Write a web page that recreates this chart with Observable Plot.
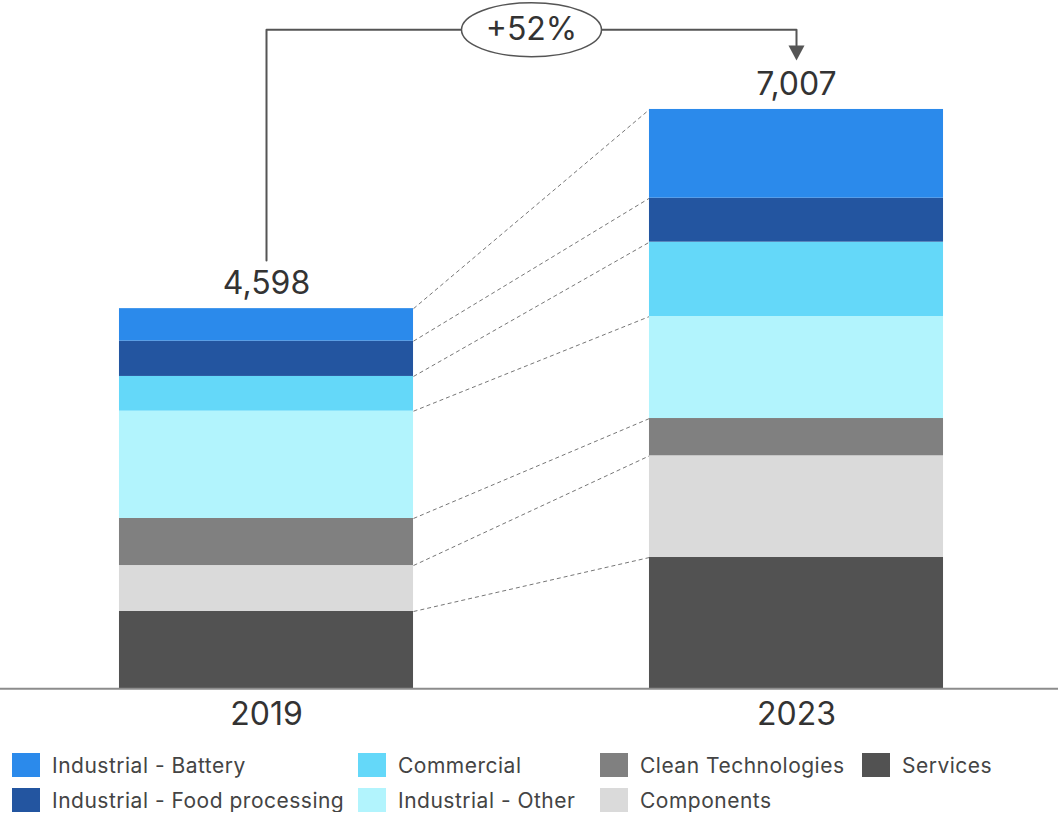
<!DOCTYPE html>
<html>
<head>
<meta charset="utf-8">
<script src="https://cdn.jsdelivr.net/npm/d3@7"></script>
<script src="https://cdn.jsdelivr.net/npm/@observablehq/plot@0.6"></script>
<style>
  html, body { margin: 0; padding: 0; background: #fff; }
  #wrap { width: 1058px; font-family: Inter, "Noto Sans", sans-serif; }
  #legend {
    display: grid;
    grid-template-rows: 24px 24px;
    grid-auto-flow: column;
    grid-template-columns: 346px 242px 262px auto;
    row-gap: 11px;
    margin: 18px 0 0 12px;
    font-size: 21px;
    letter-spacing: 0.5px;
    color: #444;
  }
  .item { display: flex; align-items: center; white-space: nowrap; }
  .sw { width: 28px; height: 24px; margin-right: 12px; flex: none; }
</style>
</head>
<body>
<div id="wrap">
  <div id="chart"></div>
  <div id="legend"></div>
</div>
<script>
// ---- data ----
const years = ["2019", "2023"];
// stacking order, bottom to top
const categories = [
  "Services",
  "Components",
  "Clean Technologies",
  "Industrial - Other",
  "Commercial",
  "Industrial - Food processing",
  "Industrial - Battery"
];
const values2019 = [935, 556, 569, 1298, 420, 427, 393];
const values2023 = [1588, 1230, 451, 1234, 899, 532, 1073];
const totals = [4598, 7007];
const growthLabel = "+52%";
const colors = ["#525252", "#dadada", "#808080", "#b2f4fd", "#64d8f9", "#2355a0", "#2b8aeb"];
const legendOrder = [
  "Industrial - Battery",
  "Industrial - Food processing",
  "Commercial",
  "Industrial - Other",
  "Clean Technologies",
  "Components",
  "Services"
];

// ---- build stacked table ----
const series = [values2019, values2023];
const rows = [];
const tops = years.map(() => []);
series.forEach((vals, i) => {
  let acc = 0;
  vals.forEach((v, j) => {
    rows.push({year: years[i], i, category: categories[j], y1: acc, y2: acc + v});
    acc += v;
    tops[i].push(acc);
  });
});
const links = categories.map((c, j) => ({category: c, a: tops[0][j], b: tops[1][j]}));

const halfBar = 0.2774; // half bar width in x units
const fmt = d3.format(",");

// annotation geometry in value units
const bracketTop = 7971;
const bracketLeftBottom = 5181;
const arrowLineEnd = 7781;
const arrowHead = 7690;
const bracket = [
  {x: 0, y: bracketLeftBottom},
  {x: 0, y: bracketTop},
  {x: 1, y: bracketTop},
  {x: 1, y: arrowLineEnd}
];

const ellipseSymbol = {
  draw(ctx) {
    const rx = 70, ry = 27, k = 0.5523;
    ctx.moveTo(-rx, 0);
    ctx.bezierCurveTo(-rx, -ry * k, -rx * k, -ry, 0, -ry);
    ctx.bezierCurveTo(rx * k, -ry, rx, -ry * k, rx, 0);
    ctx.bezierCurveTo(rx, ry * k, rx * k, ry, 0, ry);
    ctx.bezierCurveTo(-rx * k, ry, -rx, ry * k, -rx, 0);
    ctx.closePath();
  }
};
const arrowSymbol = {
  draw(ctx) {
    ctx.moveTo(-8, -7.5);
    ctx.lineTo(8, -7.5);
    ctx.lineTo(0, 7.5);
    ctx.closePath();
  }
};

const chart = Plot.plot({
  width: 1058,
  height: 735,
  marginLeft: 0,
  marginRight: 0,
  marginTop: 0,
  marginBottom: 46.7,
  style: {fontFamily: "Inter, 'Noto Sans', sans-serif", background: "white"},
  x: {type: "linear", domain: [-266 / 530, 1 + 262 / 530], axis: null},
  y: {domain: [0, 8325], axis: null},
  color: {domain: categories, range: colors},
  marks: [
    Plot.link(links, {
      x1: () => halfBar, x2: () => 1 - halfBar,
      y1: "a", y2: "b",
      stroke: "#777", strokeWidth: 1, strokeDasharray: "4,3"
    }),
    Plot.rect(rows, {
      x1: d => d.i - halfBar, x2: d => d.i + halfBar,
      y1: "y1", y2: "y2", fill: "category"
    }),
    Plot.ruleY([0], {stroke: "#8c8c8c", strokeWidth: 2}),
    Plot.text(years, {
      x: (d, i) => i, y: () => 0, text: d => d, dy: 26,
      fontSize: 32, fill: "#333"
    }),
    Plot.text(totals, {
      x: (d, i) => i, y: d => d, text: d => fmt(d), dy: -25,
      fontSize: 32, fill: "#333"
    }),
    Plot.line(bracket, {x: "x", y: "y", stroke: "#555", strokeWidth: 2}),
    Plot.dot([arrowHead], {x: () => 1, y: d => d, symbol: arrowSymbol, fill: "#555", stroke: "none"}),
    Plot.dot([bracketTop], {x: () => 0.5, y: d => d, symbol: ellipseSymbol, fill: "white", stroke: "#555", strokeWidth: 1.5}),
    Plot.text([growthLabel], {x: () => 0.5, y: () => bracketTop, text: d => d, fontSize: 32, fill: "#333"})
  ]
});
document.getElementById("chart").appendChild(chart);

const legend = document.getElementById("legend");
legendOrder.forEach(c => {
  const item = document.createElement("div");
  item.className = "item";
  const sw = document.createElement("span");
  sw.className = "sw";
  sw.style.background = colors[categories.indexOf(c)];
  const t = document.createElement("span");
  t.textContent = c;
  item.appendChild(sw);
  item.appendChild(t);
  legend.appendChild(item);
});
</script>
</body>
</html>
